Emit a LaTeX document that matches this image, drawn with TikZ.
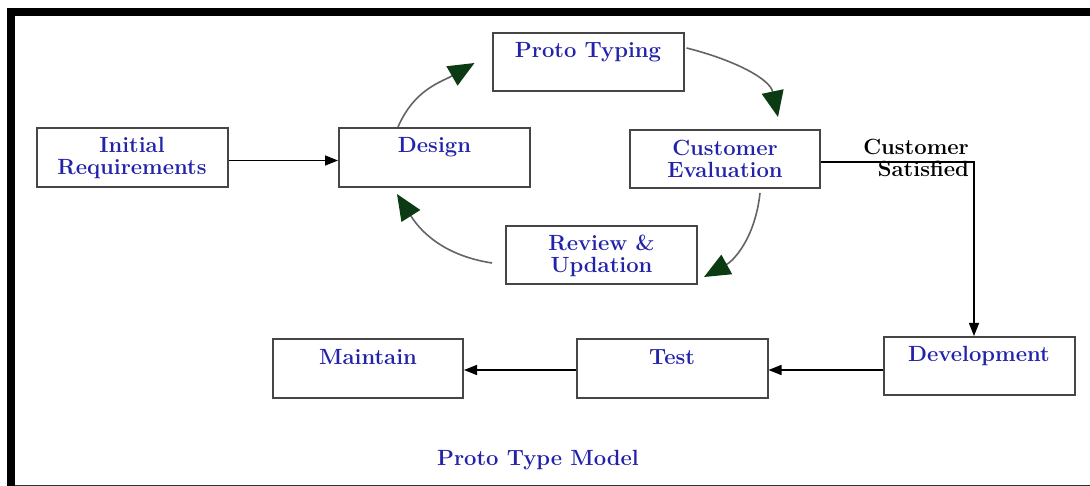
\documentclass[tikz,border=0pt]{standalone}
\usetikzlibrary{arrows.meta,calc}
\definecolor{txtblue}{RGB}{35,35,170}
\definecolor{headgreen}{RGB}{12,58,18}
\definecolor{boxgray}{RGB}{70,70,70}
\definecolor{curvegray}{RGB}{100,100,100}
\begin{document}
\begin{tikzpicture}[x=1pt,y=-1pt,
  box/.style={draw=boxgray,line width=2pt,minimum width=191pt,minimum height=59pt,inner sep=0pt},
  txt/.style={text=txtblue,font=\fontsize{22}{22}\selectfont\bfseries,inner sep=0pt,anchor=base},
  lbl/.style={text=black,font=\fontsize{22}{21.5}\selectfont\bfseries,inner sep=0pt},
  conn/.style={draw=black,line width=1.5pt,-{Triangle[length=13pt,width=10pt]}},
  curve/.style={draw=curvegray,line width=1.6pt,-{Triangle[length=26pt,width=22pt,color=headgreen]}}]
\useasboundingbox (0,0) rectangle (1090,486);
\fill[white] (0,0) rectangle (1090,486);
% frame
\fill[black] (7,8) rectangle (1090,16);
\fill[black] (7,8) rectangle (15,486);
\fill[black!80] (15,484.5) rectangle (1090,486);
% boxes
\node[box] (init)   at (132,157.5) {};
\node[box] (design) at (434.5,157.5) {};
\node[box,minimum height=58pt] (proto)  at (588,62) {};
\node[box,minimum width=190pt,minimum height=58pt] (eval)   at (725,159) {};
\node[box,minimum height=58pt] (review) at (601.5,255) {};
\node[box,minimum height=58pt] (dev)    at (979,366) {};
\node[box,minimum width=190pt] (maint)  at (368,368.5) {};
\node[box] (test)   at (672,368.5) {};
% texts
\node[txt] (initT)   at ($(init.north)+(0,26)$) {\begin{tabular}[t]{@{}c@{}}Initial\\Requirements\end{tabular}};
\node[txt] (designT) at ($(design.north)+(0,26)$) {Design};
\node[txt] (protoT)  at ($(proto.north)+(0,26)$) {Proto Typing};
\node[txt] (evalT)   at ($(eval.north)+(0,27)$) {\begin{tabular}[t]{@{}c@{}}Customer\\Evaluation\end{tabular}};
\node[txt] (reviewT) at ($(review.north)+(0,26)$) {\begin{tabular}[t]{@{}c@{}}Review \&\\Updation\end{tabular}};
\node[txt] (devT)    at ($(dev.north)+(0,26)$) {Development};
\node[txt] (maintT)  at ($(maint.north)+(0,26)$) {Maintain};
\node[txt] (testT)   at ($(test.north)+(0,26)$) {Test};
\node[txt] (title)   at (538,465) {Proto Type Model};
% straight connectors
\draw[conn] ($(init.east)+(0,3)$) -- ($(design.west)+(0,3)$);
\coordinate (corner) at ($(eval.east)+(153,3)$);
\draw[conn] ($(eval.east)+(0,3)$) -- (corner) -- (corner |- dev.north);
\node[lbl,anchor=base east] (sat) at ($(corner)+(-5,-7)$) {\begin{tabular}[t]{@{}r@{}}Customer\\Satisfied\end{tabular}};
\draw[conn] ($(dev.west)+(0,4)$) -- ($(test.east)+(0,1.5)$);
\draw[conn] ($(test.west)+(0,1.5)$) -- ($(maint.east)+(0,1.5)$);
% curved cycle arrows
\draw[curve] ($(design.north)+(-36.5,0)$) .. controls ($(design.north)+(-20,-38)$) and ($(proto.west)+(-50,20)$) .. ($(proto.west)+(-17,1)$);
\draw[curve] ($(proto.east)+(2,-14)$) .. controls ($(proto.east)+(50,-2)$) and ($(eval.north)+(45,-50)$) .. ($(eval.north)+(53,-12)$);
\draw[curve] ($(eval.south)+(35,4)$) .. controls ($(eval.south)+(30,50)$) and ($(review.east)+(35,6)$) .. ($(review.east)+(6,22)$);
\draw[curve] ($(review.west)+(-13,8)$) .. controls ($(review.west)+(-65,0)$) and ($(design.south)+(-16,40)$) .. ($(design.south)+(-37.5,6)$);
\end{tikzpicture}
\end{document}
